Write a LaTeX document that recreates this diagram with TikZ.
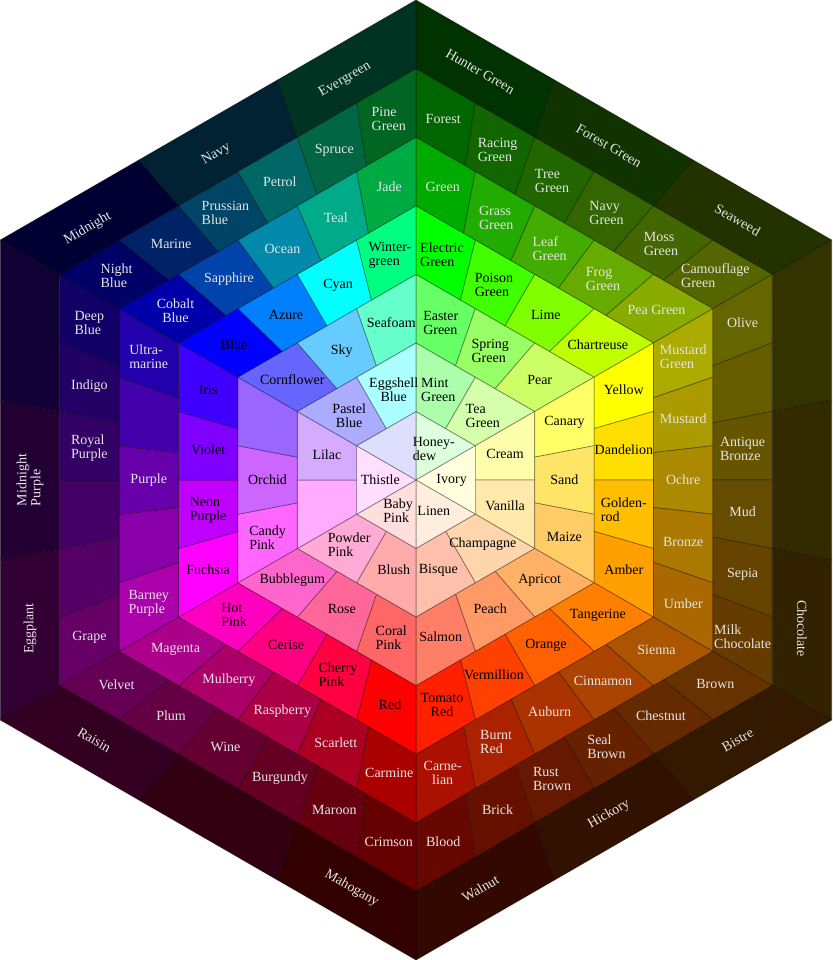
\documentclass[tikz,border=0pt]{standalone}
\usepackage{fontspec}
\setmainfont{Liberation Serif}
\usetikzlibrary{calc}

\newcommand{\ringw}{68.5714}% width of one ring

% names of one ring sector, cell by cell, clockwise; {} leaves a cell blank
\newcommand{\putnames}[4]{%
  \foreach \nm [count=\cj from 0] in {#4}{%
    \if\relax\detokenize\expandafter{\nm}\relax\else
      \node[#3] (n#1-#2-\cj) at (c#1-#2-\cj) {\nm};
    \fi
  }}

\begin{document}
\begin{tikzpicture}[x=1pt, y=1pt,
  cell/.style={draw=black, draw opacity=0.4, line width=0.7pt, line join=round},
  lbl/.style={font=\fontsize{14}{14}\selectfont, align=left, inner sep=0pt},
  lbldark/.style={lbl, text=black},
  lbllight/.style={lbl, text=white!90!black}
]
\useasboundingbox (-416,-480) rectangle (416,480);

% seven rings, six sectors clockwise from the top;
% ring 3 holds the pure hues, inner rings go to white, outer rings to black
\foreach \ri in {0,...,6}{
  \pgfmathsetmacro{\rin}{\ri*\ringw}
  \pgfmathsetmacro{\rout}{(\ri+1)*\ringw}
  \pgfmathsetmacro{\rmid}{\ri==0 ? 0.6*\ringw : (\ri+0.5)*\ringw}
  \pgfmathtruncatemacro{\ncell}{\ri<6 ? \ri+1 : 3}
  \pgfmathtruncatemacro{\lastcell}{\ncell-1}
  \pgfmathsetmacro{\tw}{{0.87,0.67,0.4,0,0,0,0}[\ri]}
  \pgfmathsetmacro{\ts}{{0.13,0.33,0.6,1,0.67,0.4,0.2}[\ri]}
  \foreach \si in {0,...,5}{
    \pgfmathsetmacro{\angA}{90-60*\si}
    \pgfmathsetmacro{\angB}{30-60*\si}
    \foreach \ci in {0,...,\lastcell}{
      \pgfmathsetmacro{\hp}{\si+\ci/\ncell}
      \pgfmathsetmacro{\cR}{min(1,\tw+\ts*max(0,min(1,\hp,5-\hp)))}
      \pgfmathsetmacro{\cG}{min(1,\tw+\ts*(max(0,min(1,(3-\hp)/2))+max(0,min(1,2*(\hp-5)))))}
      \pgfmathsetmacro{\cB}{min(1,\tw+\ts*max(0,min(1,\hp-3,2*(6-\hp))))}
      \definecolor{cellfill}{rgb}{\cR,\cG,\cB}
      \pgfmathsetmacro{\fa}{\ci/\ncell}
      \pgfmathsetmacro{\fb}{(\ci+1)/\ncell}
      \pgfmathsetmacro{\fm}{(\ci+0.5)/\ncell}
      \filldraw[cell, fill=cellfill]
        ($(\angA:\rin)!\fa!(\angB:\rin)$) -- ($(\angA:\rin)!\fb!(\angB:\rin)$)
        -- ($(\angA:\rout)!\fb!(\angB:\rout)$) -- ($(\angA:\rout)!\fa!(\angB:\rout)$) -- cycle;
      \coordinate (c\ri-\si-\ci) at ($(\angA:\rmid)!\fm!(\angB:\rmid)$);
    }
  }
}

% centre
\putnames{0}{0}{lbldark}{{Honey-\\dew}}
\putnames{0}{1}{lbldark}{Ivory}
\putnames{0}{2}{lbldark}{Linen}
\putnames{0}{3}{lbldark}{{Baby\\Pink}}
\putnames{0}{4}{lbldark}{Thistle}
% ring 1
\putnames{1}{0}{lbldark}{{Mint\\Green},{Tea\\Green}}
\putnames{1}{1}{lbldark}{Cream,Vanilla}
\putnames{1}{2}{lbldark}{Champagne,Bisque}
\putnames{1}{3}{lbldark}{Blush,{Powder\\Pink}}
\putnames{1}{4}{lbldark}{{},Lilac}
\putnames{1}{5}{lbldark, align=center}{{Pastel\\Blue},{Eggshell\\Blue}}
% ring 2
\putnames{2}{0}{lbldark}{{Easter\\Green},{Spring\\Green},Pear}
\putnames{2}{1}{lbldark}{Canary,Sand,Maize}
\putnames{2}{2}{lbldark}{Apricot,Peach,Salmon}
\putnames{2}{3}{lbldark}{{Coral\\Pink},Rose,Bubblegum}
\putnames{2}{4}{lbldark}{{Candy\\Pink},Orchid,{}}
\putnames{2}{5}{lbldark}{Cornflower,Sky,Seafoam}
% ring 3, full hues
\putnames{3}{0}{lbldark}{{Electric\\Green},{Poison\\Green},Lime,Chartreuse}
\putnames{3}{1}{lbldark}{Yellow,Dandelion,{Golden-\\rod},Amber}
\putnames{3}{2}{lbldark, align=center}{Tangerine,Orange,Vermillion,{Tomato\\Red}}
\putnames{3}{3}{lbldark}{Red,{Cherry\\Pink},Cerise,{Hot\\Pink}}
\putnames{3}{4}{lbldark}{Fuchsia,{Neon\\Purple},Violet,Iris}
\putnames{3}{5}{lbldark}{Blue,Azure,Cyan,{Winter-\\green}}
% ring 4
\putnames{4}{0}{lbllight}{Green,{Grass\\Green},{Leaf\\Green},{Frog\\Green},Pea Green}
\putnames{4}{1}{lbllight}{{Mustard\\Green},Mustard,Ochre,Bronze,Umber}
\putnames{4}{2}{lbllight}{Sienna,Cinnamon,Auburn,{Burnt\\Red}}
\node[lbllight, align=center] (n4-2-4) at (c4-2-4) {Carne-\\lian};
\putnames{4}{3}{lbllight}{Carmine,Scarlett,Raspberry,Mulberry,Magenta}
\putnames{4}{4}{lbllight}{{Barney\\Purple},{},Purple,{},{Ultra-\\marine}}
\putnames{4}{5}{lbllight, align=center}{{Cobalt\\Blue},Sapphire,Ocean,Teal,Jade}
% ring 5
\putnames{5}{0}{lbllight}{Forest,{Racing\\Green},{Tree\\Green},{Navy\\Green},{Moss\\Green},{Camouflage\\Green}}
\putnames{5}{1}{lbllight}{Olive,{},{Antique\\Bronze},Mud,Sepia,{Milk\\Chocolate}}
\putnames{5}{2}{lbllight}{Brown,Chestnut,{Seal\\Brown},{Rust\\Brown},Brick,Blood}
\putnames{5}{3}{lbllight}{Crimson,Maroon,Burgundy,Wine,Plum,Velvet}
\putnames{5}{4}{lbllight}{Grape,{},{},{Royal\\Purple},Indigo,{Deep\\Blue}}
\putnames{5}{5}{lbllight}{{Night\\Blue},Marine,{Prussian\\Blue},Petrol,Spruce,{Pine\\Green}}
% outer ring, names along the edge
\putnames{6}{0}{lbllight, rotate=-30}{Hunter Green,Forest Green,Seaweed}
\putnames{6}{1}{lbllight, rotate=-90}{{},{},Chocolate}
\putnames{6}{2}{lbllight, rotate=30}{Bistre,Hickory,Walnut}
\putnames{6}{3}{lbllight, rotate=-30}{Mahogany,{},Raisin}
\putnames{6}{4}{lbllight, rotate=90}{Eggplant,{Midnight\\Purple},{}}
\putnames{6}{5}{lbllight, rotate=30, xshift=-10pt, yshift=-4pt}{Midnight,Navy,Evergreen}
\end{tikzpicture}
\end{document}
